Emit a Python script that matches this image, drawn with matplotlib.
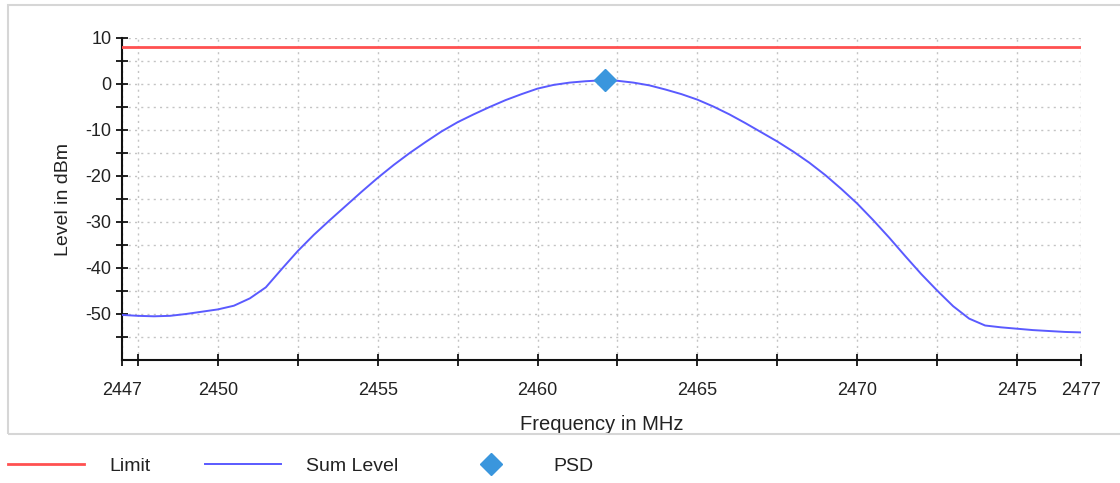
import matplotlib
matplotlib.use('Agg')
import matplotlib.pyplot as plt
from matplotlib.patches import Rectangle
import numpy as np

plt.rcParams['font.family'] = ['Liberation Sans', 'DejaVu Sans']

# measured sum level trace (MHz, dBm)
freq = [2447.0, 2447.5, 2448.0, 2448.5, 2449.0, 2449.5, 2450.0, 2450.5, 2451.0, 2451.5,
        2452.0, 2452.5, 2453.0, 2453.5, 2454.0, 2454.5, 2455.0, 2455.5, 2456.0, 2456.5,
        2457.0, 2457.5, 2458.0, 2458.5, 2459.0, 2459.5, 2460.0, 2460.5, 2461.0, 2461.5,
        2462.0, 2462.5, 2463.0, 2463.5, 2464.0, 2464.5, 2465.0, 2465.5, 2466.0, 2466.5,
        2467.0, 2467.5, 2468.0, 2468.5, 2469.0, 2469.5, 2470.0, 2470.5, 2471.0, 2471.5,
        2472.0, 2472.5, 2473.0, 2473.5, 2474.0, 2474.5, 2475.0, 2475.5, 2476.0, 2476.5,
        2477.0]
sum_level = [-50.2, -50.4, -50.5, -50.4, -50.0, -49.5, -49.0, -48.2, -46.6, -44.2,
             -40.2, -36.3, -32.8, -29.6, -26.5, -23.4, -20.4, -17.6, -15.0, -12.6,
             -10.3, -8.3, -6.6, -5.0, -3.5, -2.2, -1.0, -0.2, 0.3, 0.6,
             0.8, 0.7, 0.3, -0.3, -1.2, -2.2, -3.4, -4.9, -6.6, -8.5,
             -10.5, -12.5, -14.7, -17.1, -19.8, -22.8, -26.0, -29.6, -33.4, -37.4,
             -41.3, -44.9, -48.3, -51.0, -52.5, -52.9, -53.2, -53.5, -53.7, -53.9,
             -54.0]
limit_freq = [2447, 2477]
limit_level = [8, 8]
psd_freq = [2462.1]
psd_level = [0.9]

xticks = [2447, 2447.5, 2450, 2452.5, 2455, 2457.5, 2460, 2462.5, 2465, 2467.5,
          2470, 2472.5, 2475, 2477]
xlabels = ['2447', '', '2450', '', '2455', '', '2460', '', '2465', '', '2470', '', '2475', '2477']
yticks = list(range(10, -60, -5))
ylabels = [str(v) if v % 10 == 0 else '' for v in yticks]

fig = plt.figure(figsize=(11.2, 4.83), dpi=100)
ax = fig.add_axes([122/1120, 1-360/483, (1081-122)/1120, (360-38)/483])

# outer frame
fig.add_artist(Rectangle((8/1120, 1-434/483), 1.2, (434-5)/483, transform=fig.transFigure,
                         fill=False, edgecolor='#d6d6d6', linewidth=1.5))

ax.plot(limit_freq, limit_level, color='#ff5050', linewidth=2, label='Limit', zorder=3)
ax.plot(freq, sum_level, color='#5a5aff', linewidth=1.4, label='Sum Level', zorder=3)
ax.plot(psd_freq, psd_level, linestyle='none', marker='D', markersize=11,
        color='#3a96dd', label='PSD', zorder=4)

ax.set_xlim(2447, 2477)
ax.set_ylim(-60, 10)
ax.set_xticks(xticks)
ax.set_xticklabels(xlabels)
ax.set_yticks(yticks)
ax.set_yticklabels(ylabels)
ax.tick_params(direction='inout', length=9, width=1.3, colors='#111111',
               labelsize=13, labelcolor='#222222')
ax.tick_params(axis='x', pad=11)
ax.tick_params(axis='y', pad=3)

ax.grid(which='both', axis='both', color='#c4c4c4', linestyle=(0, (1.5, 3)), linewidth=1)
for s in ['top', 'right']:
    ax.spines[s].set_visible(False)
for s in ['left', 'bottom']:
    ax.spines[s].set_linewidth(1.5)
    ax.spines[s].set_color('#111111')

ax.set_xlabel('Frequency in MHz', fontsize=14.5, color='#222222', labelpad=12)
ax.set_ylabel('Level in dBm', fontsize=14, color='#222222', labelpad=10)

h, l = ax.get_legend_handles_labels()
fig.legend(h, l, loc='center left', bbox_to_anchor=(8/1120, 1-466/483), ncol=3, frameon=False,
           borderpad=0, borderaxespad=0, handlelength=3.9, handletextpad=1.3,
           columnspacing=2.8, fontsize=14, labelcolor='#222222')

plt.savefig('out.png', dpi=100)
